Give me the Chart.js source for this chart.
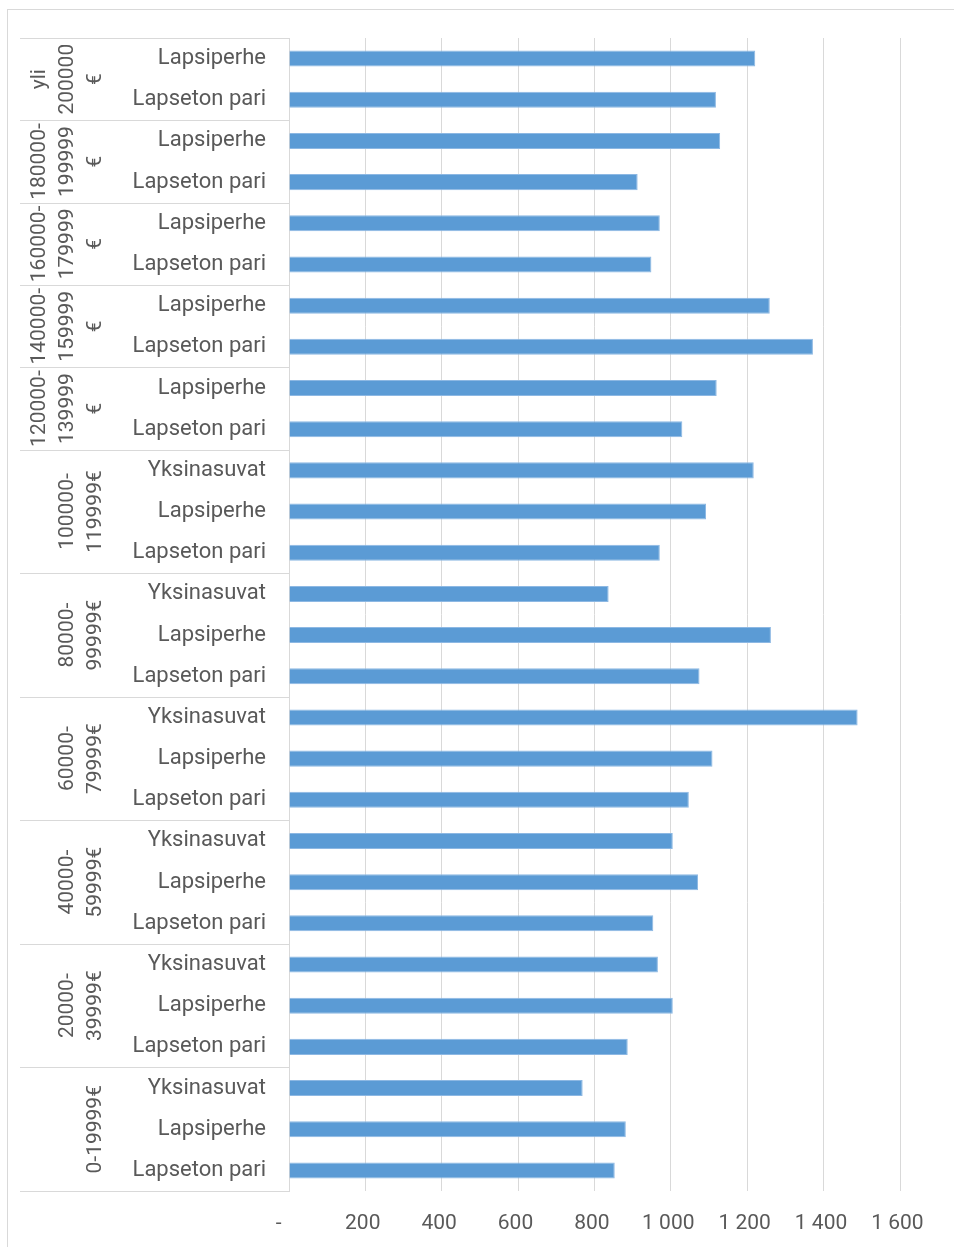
<!DOCTYPE html>
<html>
<head>
<meta charset="utf-8">
<script src="https://cdn.jsdelivr.net/npm/chart.js@4/dist/chart.umd.min.js"></script>
<style>
    html, body { margin: 0; padding: 0; background: #fff; }
    canvas { display: block; }
</style>
</head>
<body>
<canvas id="incomeChart" width="954" height="1247"></canvas>
<script>
// income groups, top to bottom, with the line breaks used in the axis
const groupNames = [
    ["yli", "200000", "€"],
    ["180000-", "199999", "€"],
    ["160000-", "179999", "€"],
    ["140000-", "159999", "€"],
    ["120000-", "139999", "€"],
    ["100000-", "119999€"],
    ["80000-", "99999€"],
    ["60000-", "79999€"],
    ["40000-", "59999€"],
    ["20000-", "39999€"],
    ["0-19999€"]
];
const groupSizes = [2, 2, 2, 2, 2, 3, 3, 3, 3, 3, 3];

const rowLabels = [
    "Lapsiperhe", "Lapseton pari",
    "Lapsiperhe", "Lapseton pari",
    "Lapsiperhe", "Lapseton pari",
    "Lapsiperhe", "Lapseton pari",
    "Lapsiperhe", "Lapseton pari",
    "Yksinasuvat", "Lapsiperhe", "Lapseton pari",
    "Yksinasuvat", "Lapsiperhe", "Lapseton pari",
    "Yksinasuvat", "Lapsiperhe", "Lapseton pari",
    "Yksinasuvat", "Lapsiperhe", "Lapseton pari",
    "Yksinasuvat", "Lapsiperhe", "Lapseton pari",
    "Yksinasuvat", "Lapsiperhe", "Lapseton pari"
];

const values = [
    1221, 1118,
    1129, 913,
    971, 949,
    1259, 1372,
    1120, 1030,
    1217, 1092, 971,
    837, 1262, 1075,
    1489, 1109, 1047,
    1005, 1071, 954,
    966, 1005, 887,
    769, 882, 853
];

const xTicks = [0, 200, 400, 600, 800, 1000, 1200, 1400, 1600];

const FONT = "Roboto, 'Liberation Sans', sans-serif";
const TEXT = "#595959";
const LINE = "#d9d9d9";

function tickText(v) {
    if (v === 0) return "-    ";
    if (v >= 1000) return Math.floor(v / 1000) + " " + String(v % 1000).padStart(3, "0") + " ";
    return v + " ";
}

const groupAxis = {
    id: "groupAxis",
    afterDraw(chart) {
        const ctx = chart.ctx;
        const y = chart.scales.y;
        const area = chart.chartArea;
        const n = rowLabels.length;

        ctx.save();
        ctx.strokeStyle = LINE;
        ctx.lineWidth = 1;
        ctx.strokeRect(7.5, 9.5, 1000, 1300);

        ctx.beginPath();
        ctx.moveTo(20, Math.round(area.top) + 0.5);
        ctx.lineTo(area.left, Math.round(area.top) + 0.5);
        ctx.stroke();

        let start = 0;
        groupNames.forEach((lines, g) => {
            const end = start + groupSizes[g];
            const yTop = start === 0 ? area.top
                : (y.getPixelForValue(start - 1) + y.getPixelForValue(start)) / 2;
            const yBot = end === n ? area.bottom
                : (y.getPixelForValue(end - 1) + y.getPixelForValue(end)) / 2;

            ctx.beginPath();
            ctx.moveTo(20, Math.round(yBot) + 0.5);
            ctx.lineTo(area.left, Math.round(yBot) + 0.5);
            ctx.stroke();

            const cy = (yTop + yBot) / 2;
            ctx.fillStyle = TEXT;
            ctx.font = "21px " + FONT;
            ctx.textAlign = "center";
            ctx.textBaseline = "middle";
            lines.forEach((line, i) => {
                const x = 96 - (lines.length - 1 - i) * 28;
                ctx.save();
                ctx.translate(x, cy);
                ctx.rotate(-Math.PI / 2);
                ctx.fillText(line, 0, 0);
                ctx.restore();
            });
            start = end;
        });
        ctx.restore();
    }
};

new Chart(document.getElementById("incomeChart"), {
    type: "bar",
    data: {
        labels: rowLabels,
        datasets: [{
            data: values,
            backgroundColor: "#5b9bd5",
            borderColor: "#8db8e3",
            borderWidth: 1,
            borderSkipped: "start",
            categoryPercentage: 1,
            barPercentage: 0.39
        }]
    },
    options: {
        indexAxis: "y",
        responsive: false,
        animation: false,
        layout: { padding: { top: 38, right: 54, left: 0, bottom: 0 } },
        plugins: {
            legend: { display: false },
            tooltip: { enabled: false }
        },
        scales: {
            x: {
                min: 0,
                max: 1600,
                afterBuildTicks: (scale) => {
                    scale.ticks = xTicks.map(v => ({ value: v }));
                },
                afterFit: (scale) => { scale.height = 56; },
                grid: { color: LINE, lineWidth: 1, drawTicks: false },
                border: { display: false },
                ticks: {
                    padding: 20,
                    color: TEXT,
                    font: { family: FONT, size: 21 },
                    maxRotation: 0,
                    callback: (v) => tickText(v)
                }
            },
            y: {
                afterFit: (scale) => { scale.width = 289; },
                grid: { display: false, drawTicks: false },
                border: { display: true, color: LINE, width: 1 },
                ticks: {
                    padding: 23,
                    color: TEXT,
                    font: { family: FONT, size: 22 },
                    autoSkip: false
                }
            }
        }
    },
    plugins: [groupAxis]
});
</script>
</body>
</html>
